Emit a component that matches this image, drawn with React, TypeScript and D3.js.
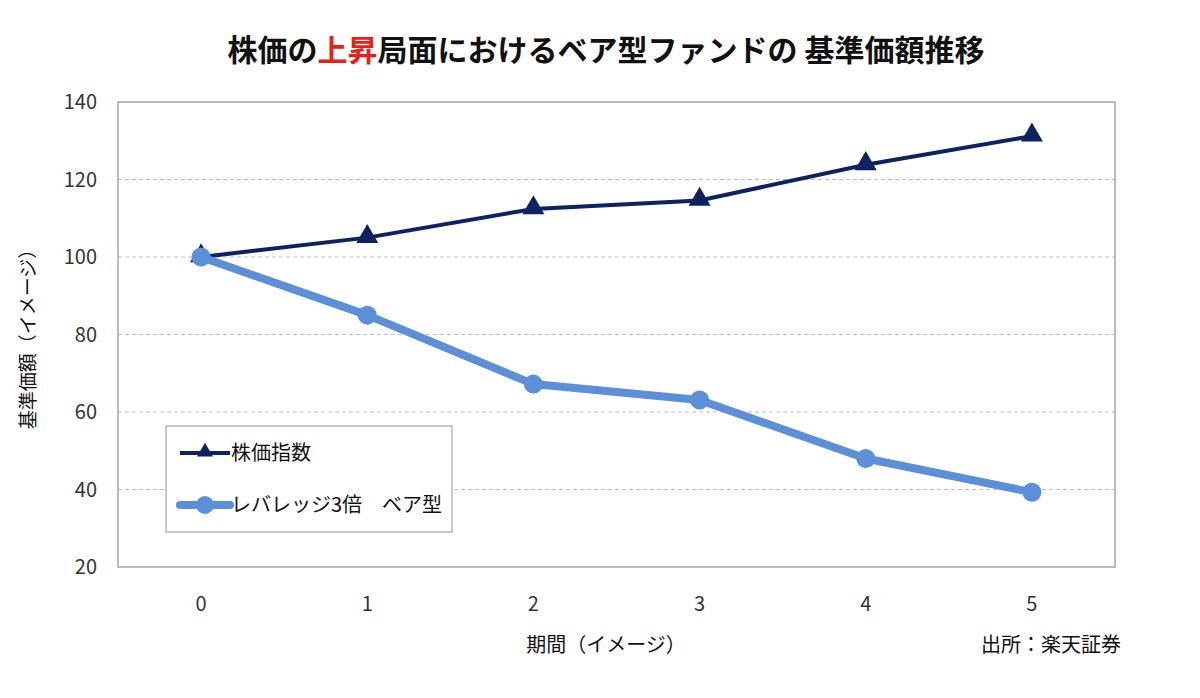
import React, { useEffect, useRef } from "react";
import * as d3 from "d3";

const periods = [0, 1, 2, 3, 4, 5];
const stockIndex = [100, 105, 112.4, 114.6, 123.8, 131.2];
const bearFund = [100, 85, 67.2, 63.1, 48.0, 39.3];
const yTicks = [20, 40, 60, 80, 100, 120, 140];
const seriesNames = ["株価指数", "レバレッジ3倍　ベア型"];

const W = 1200;
const H = 698;
const FONT = "'Noto Sans CJK JP', 'Noto Sans', sans-serif";

export default function App() {
  const ref = useRef<SVGSVGElement>(null);

  useEffect(() => {
    const svg = d3.select(ref.current);
    svg.selectAll("*").remove();

    const margin = { top: 102, left: 118, right: 85, bottom: 131 };
    const x = d3
      .scaleBand<number>()
      .domain(periods)
      .range([margin.left, W - margin.right]);
    const y = d3
      .scaleLinear()
      .domain([20, 140])
      .range([H - margin.bottom, margin.top]);
    const cx = (d: number) => (x(d) as number) + x.bandwidth() / 2;

    svg.append("rect").attr("width", W).attr("height", H).attr("fill", "#fff");

    // title
    const title = svg
      .append("text")
      .attr("x", 606)
      .attr("y", 61)
      .attr("text-anchor", "middle")
      .attr("font-family", FONT)
      .attr("font-size", 30)
      .attr("font-weight", 700)
      .attr("fill", "#111");
    title.append("tspan").text("株価の");
    title.append("tspan").attr("fill", "#e8201a").text("上昇");
    title.append("tspan").text("局面におけるベア型ファンドの 基準価額推移");

    // gridlines
    svg
      .append("g")
      .selectAll("line")
      .data(yTicks.filter((t) => t > 20 && t < 140))
      .join("line")
      .attr("x1", margin.left)
      .attr("x2", W - margin.right)
      .attr("y1", (d) => y(d))
      .attr("y2", (d) => y(d))
      .attr("stroke", "#bdbdbd")
      .attr("stroke-width", 1)
      .attr("stroke-dasharray", "4,3");

    // plot border
    svg
      .append("rect")
      .attr("x", margin.left)
      .attr("y", margin.top)
      .attr("width", W - margin.left - margin.right)
      .attr("height", H - margin.top - margin.bottom)
      .attr("fill", "none")
      .attr("stroke", "#a6a6a6")
      .attr("stroke-width", 1.5);

    // y tick labels
    svg
      .append("g")
      .selectAll("text")
      .data(yTicks)
      .join("text")
      .attr("x", 97)
      .attr("y", (d) => y(d))
      .attr("dy", "0.35em")
      .attr("text-anchor", "end")
      .attr("font-family", FONT)
      .attr("font-size", 20)
      .attr("fill", "#333")
      .text((d) => d);

    // x tick labels
    svg
      .append("g")
      .selectAll("text")
      .data(periods)
      .join("text")
      .attr("x", (d) => cx(d))
      .attr("y", 604)
      .attr("dy", "0.35em")
      .attr("text-anchor", "middle")
      .attr("font-family", FONT)
      .attr("font-size", 20)
      .attr("fill", "#333")
      .text((d) => d);

    // axis titles
    svg
      .append("text")
      .attr("transform", `translate(28,${(margin.top + H - margin.bottom) / 2}) rotate(-90)`)
      .attr("dy", "0.35em")
      .attr("text-anchor", "middle")
      .attr("font-family", FONT)
      .attr("font-size", 19)
      .attr("fill", "#111")
      .text("基準価額（イメージ）");

    svg
      .append("text")
      .attr("x", 606)
      .attr("y", 645)
      .attr("dy", "0.35em")
      .attr("text-anchor", "middle")
      .attr("font-family", FONT)
      .attr("font-size", 20)
      .attr("fill", "#111")
      .text("期間（イメージ）");

    svg
      .append("text")
      .attr("x", 1121)
      .attr("y", 645)
      .attr("dy", "0.35em")
      .attr("text-anchor", "end")
      .attr("font-family", FONT)
      .attr("font-size", 20)
      .attr("fill", "#111")
      .text("出所：楽天証券");

    const line = d3
      .line<number>()
      .x((_, i) => cx(periods[i]))
      .y((d) => y(d));

    const tri = d3.symbol().type(d3.symbolTriangle).size(210);

    // stock index series
    svg
      .append("path")
      .attr("d", line(stockIndex))
      .attr("fill", "none")
      .attr("stroke", "#0d2260")
      .attr("stroke-width", 4);
    svg
      .append("g")
      .selectAll("path")
      .data(stockIndex)
      .join("path")
      .attr("d", tri)
      .attr("transform", (d, i) => `translate(${cx(periods[i])},${y(d) - 1})`)
      .attr("fill", "#0d2260");

    // bear fund series
    svg
      .append("path")
      .attr("d", line(bearFund))
      .attr("fill", "none")
      .attr("stroke", "#5b8fd8")
      .attr("stroke-width", 8)
      .attr("stroke-linejoin", "round");
    svg
      .append("g")
      .selectAll("circle")
      .data(bearFund)
      .join("circle")
      .attr("cx", (_, i) => cx(periods[i]))
      .attr("cy", (d) => y(d))
      .attr("r", 9.5)
      .attr("fill", "#5b8fd8");

    // legend
    const lg = svg.append("g");
    lg.append("rect")
      .attr("x", 166)
      .attr("y", 426)
      .attr("width", 286)
      .attr("height", 106)
      .attr("fill", "#fff")
      .attr("stroke", "#a6a6a6")
      .attr("stroke-width", 1.2);
    lg.append("line")
      .attr("x1", 180)
      .attr("x2", 230)
      .attr("y1", 453)
      .attr("y2", 453)
      .attr("stroke", "#0d2260")
      .attr("stroke-width", 4);
    lg.append("path")
      .attr("d", d3.symbol().type(d3.symbolTriangle).size(110)())
      .attr("transform", "translate(205,452)")
      .attr("fill", "#0d2260");
    lg.append("line")
      .attr("x1", 180)
      .attr("x2", 230)
      .attr("y1", 505)
      .attr("y2", 505)
      .attr("stroke", "#5b8fd8")
      .attr("stroke-width", 8)
      .attr("stroke-linecap", "round");
    lg.append("circle").attr("cx", 205).attr("cy", 505).attr("r", 9).attr("fill", "#5b8fd8");
    lg.selectAll("text.lbl")
      .data(seriesNames)
      .join("text")
      .attr("class", "lbl")
      .attr("x", 231)
      .attr("y", (_, i) => 453 + i * 52)
      .attr("dy", "0.35em")
      .attr("font-family", FONT)
      .attr("font-size", 20)
      .attr("fill", "#111")
      .text((d) => d);
  }, []);

  return (
    <svg
      ref={ref}
      width={W}
      height={H}
      style={{ position: "absolute", left: 0, top: 0, display: "block" }}
    />
  );
}
